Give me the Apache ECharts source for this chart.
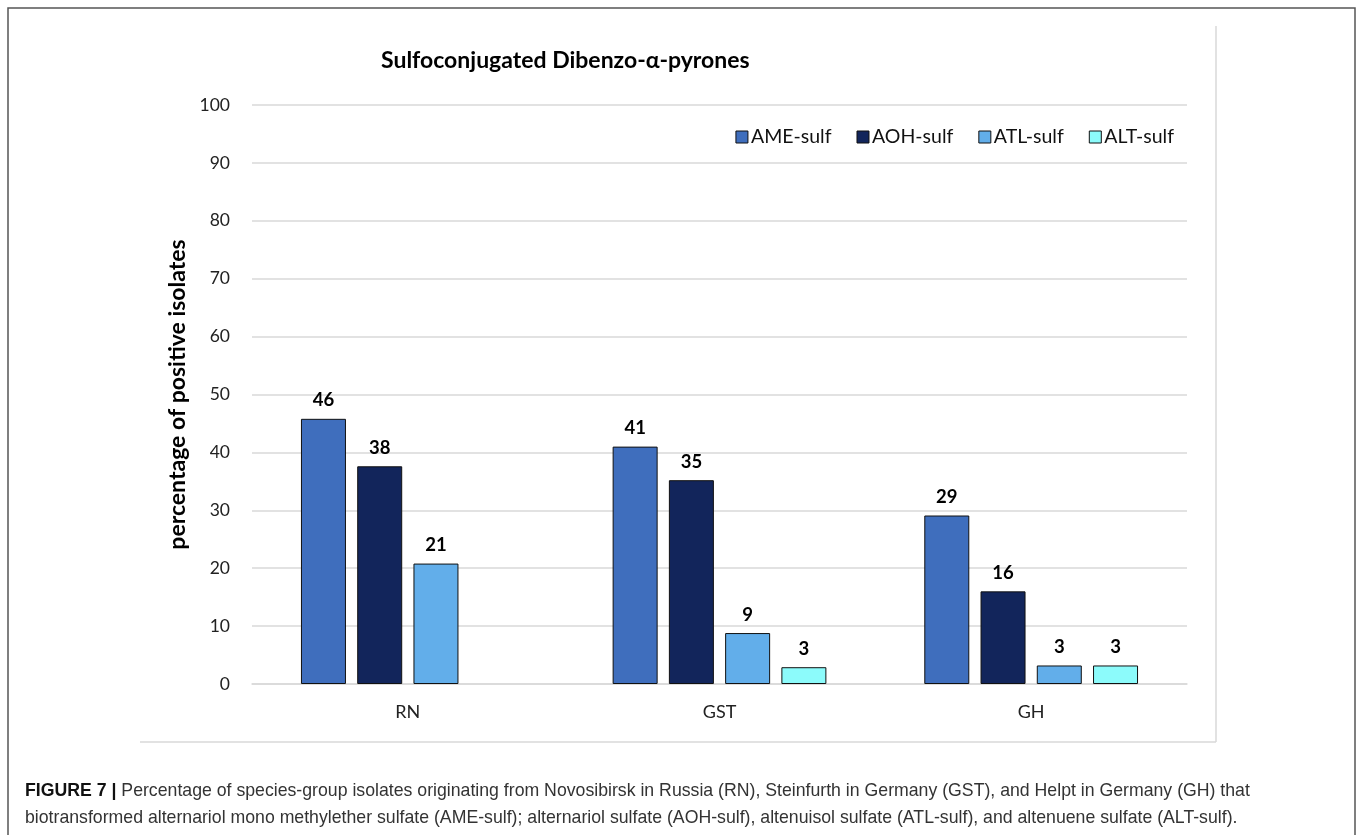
<!DOCTYPE html>
<html>
<head>
<meta charset="utf-8">
<script src="https://cdn.jsdelivr.net/npm/echarts@6/dist/echarts.min.js"></script>
<style>
html,body{margin:0;padding:0;background:#fff;}
#chart{width:1357px;height:835px;}
</style>
</head>
<body>
<div id="chart"></div>
<script>
const titleText = 'Sulfoconjugated Dibenzo-α-pyrones';
const yAxisName = 'percentage of positive isolates';
const categories = ['RN', 'GST', 'GH'];
const seriesNames = ['AME-sulf', 'AOH-sulf', 'ATL-sulf', 'ALT-sulf'];
const ameSulf = [45.8, 41.0, 29.1];
const aohSulf = [37.6, 35.2, 16.0];
const atlSulf = [20.8, 8.8, 3.2];
const altSulf = [null, 2.9, 3.2];
const yTicks = [0, 10, 20, 30, 40, 50, 60, 70, 80, 90, 100];
const colors = ['#3F6EBD', '#12255B', '#62AEEA', '#8CFBFB'];
const captionBold = 'FIGURE 7 |';
const captionLine1 = ' Percentage of species-group isolates originating from Novosibirsk in Russia (RN), Steinfurth in Germany (GST), and Helpt in Germany (GH) that';
const captionLine2 = 'biotransformed alternariol mono methylether sulfate (AME-sulf); alternariol sulfate (AOH-sulf), altenuisol sulfate (ATL-sulf), and altenuene sulfate (ALT-sulf).';

const seriesData = [ameSulf, aohSulf, atlSulf, altSulf];
const font = 'Lato, "Open Sans", sans-serif';
const capFont = '"Liberation Sans", Arial, sans-serif';
const chart = echarts.init(document.getElementById('chart'));

const series = seriesNames.map((name, i) => ({
  name: name,
  type: 'bar',
  data: seriesData[i],
  barWidth: 45,
  barGap: '25%',
  itemStyle: { color: colors[i], borderColor: '#111', borderWidth: 1 },
  label: {
    show: true,
    position: 'top',
    distance: 9,
    fontFamily: font,
    fontWeight: 'bold',
    fontSize: 18.5,
    color: '#000',
    formatter: p => p.value == null ? '' : String(Math.round(p.value))
  }
}));

chart.setOption({
  animation: false,
  textStyle: { fontFamily: font },
  title: {
    text: titleText,
    left: 376,
    top: 44,
    textStyle: { fontFamily: font, fontWeight: 'bold', fontSize: 23, color: '#000' }
  },
  legend: {
    data: seriesNames,
    right: 178,
    top: 122,
    itemWidth: 12,
    itemHeight: 12,
    itemGap: 25,
    icon: 'rect',
    itemStyle: { borderColor: '#111', borderWidth: 1 },
    textStyle: { fontFamily: font, fontSize: 19.5, color: '#111', padding: [0, 0, 0, -2] }
  },
  grid: { left: 252, right: 170, top: 105, bottom: 151 },
  xAxis: {
    type: 'category',
    data: categories,
    axisLine: { show: true, lineStyle: { color: '#D9D9D9', width: 1.5 } },
    axisTick: { show: false },
    axisLabel: { fontFamily: font, fontSize: 18, color: '#222', margin: 19 }
  },
  yAxis: {
    type: 'value',
    min: yTicks[0],
    max: yTicks[yTicks.length - 1],
    interval: yTicks[1] - yTicks[0],
    name: yAxisName,
    nameLocation: 'middle',
    nameGap: 59,
    nameTextStyle: { fontFamily: font, fontWeight: 'bold', fontSize: 23, color: '#000' },
    axisLine: { show: false },
    axisTick: { show: false },
    axisLabel: { fontFamily: font, fontSize: 17.5, color: '#222', margin: 22 },
    splitLine: { lineStyle: { color: '#D9D9D9', width: 1.5 } }
  },
  series: series,
  graphic: [
    { type: 'rect', silent: true, shape: { x: 8, y: 8, width: 1347, height: 840 },
      style: { fill: 'none', stroke: '#555', lineWidth: 1.5 } },
    { type: 'line', silent: true, shape: { x1: 1216, y1: 26, x2: 1216, y2: 742 },
      style: { stroke: '#D9D9D9', lineWidth: 1.5 } },
    { type: 'line', silent: true, shape: { x1: 140, y1: 742, x2: 1216, y2: 742 },
      style: { stroke: '#D9D9D9', lineWidth: 1.5 } },
    { type: 'text', left: 25, top: 782, silent: true,
      style: {
        text: '{b|' + captionBold + '}{n|' + captionLine1 + '}',
        rich: {
          b: { fontFamily: capFont, fontWeight: 'bold', fontSize: 17.7, fill: '#111' },
          n: { fontFamily: capFont, fontSize: 17.7, fill: '#333' }
        }
      } },
    { type: 'text', left: 25, top: 809, silent: true,
      style: { text: captionLine2, fontFamily: capFont, fontSize: 17.7, fill: '#333' } }
  ]
});
</script>
</body>
</html>
